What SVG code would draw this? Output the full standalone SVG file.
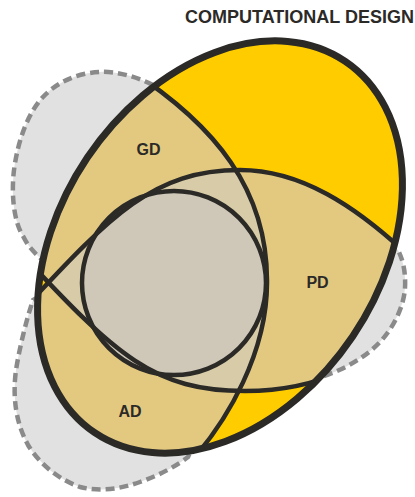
<svg xmlns="http://www.w3.org/2000/svg" width="415" height="497" viewBox="0 0 415 497">
<style>
.line{fill:none;stroke:#2b2a27;stroke-width:4.5}
.lbl{font-family:"Liberation Sans",Arial,sans-serif;font-weight:bold;fill:#2b2a27;text-anchor:middle}
</style>
<defs>
<clipPath id="cdClip"><ellipse cx="220" cy="247" rx="224" ry="160" transform="rotate(-56 220 247)"/></clipPath>
<clipPath id="gdClip"><path d="M130,70 C215,125 268,190 267,283 C267,350 230,420 185,468 L185,500 L0,500 L0,0 L130,0 Z"/></clipPath>
<clipPath id="uClip"><path d="M18,315 C107,220 150,170 240,170 C300,170 355,205 410,257 L430,270 L430,500 L0,500 L0,320 Z"/></clipPath>
<path id="lShape" d="M18,250 C117,357 155,391 245,391 C280,391 315,384 345,370 L430,360 L430,0 L0,0 L0,240 Z"/>
<path id="uShape" d="M18,315 C107,220 150,170 240,170 C300,170 355,205 410,257 L430,270 L430,500 L0,500 L0,320 Z"/>
</defs>
<g id="blob">
<path d="M153,85 C135,76 115,71 100,72 C75,73 55,84 43,97 C28,113 18,140 14,170 C11,195 14,222 23,236 C28,246 33,252 45,262 L60,285 L33,300 C27,318 20,345 16,370 C12,400 17,425 28,445 C40,465 60,480 80,487 C100,492 120,489 140,482 C160,475 178,465 188,457 L210,410 L300,370 L317,378 C340,372 365,358 380,342 C395,326 404,305 405,288 C406,270 402,258 398,250 L340,220 L170,110 Z" fill="#e0e1e0" stroke="#8a8a8a" stroke-width="4.5" stroke-dasharray="9 5"/>
</g>
<g id="computational-design">
<ellipse cx="220" cy="247" rx="224" ry="160" transform="rotate(-56 220 247)" fill="#ffcc00"/>
</g>
<g clip-path="url(#cdClip)">
<g id="gd-ad-fill" clip-path="url(#gdClip)">
<use href="#lShape" fill="#e3c980"/>
<use href="#uShape" fill="#e3c980"/>
</g>
<g id="pd-fill" clip-path="url(#uClip)">
<use href="#lShape" fill="#e3c980"/>
<g clip-path="url(#gdClip)"><use href="#lShape" fill="#d8cca8"/></g>
</g>
</g>
<g id="core">
<circle cx="174" cy="283" r="92" fill="#cfc8b8" stroke="#2b2a27" stroke-width="4.5"/>
</g>
<g id="connectors" clip-path="url(#cdClip)">
<path class="line" d="M18,250 C117,357 155,391 245,391 C280,391 315,384 345,370"/>
<path class="line" d="M18,315 C107,220 150,170 240,170 C300,170 355,205 410,257"/>
<path class="line" d="M130,70 C215,125 268,190 267,283 C267,350 230,420 185,468"/>
</g>
<g id="outline">
<ellipse cx="220" cy="247" rx="224" ry="160" transform="rotate(-56 220 247)" fill="none" stroke="#2b2a27" stroke-width="7"/>
</g>
<g id="labels">
<text class="lbl" x="148.5" y="155" font-size="16">GD</text>
<text class="lbl" x="317.5" y="288" font-size="16">PD</text>
<text class="lbl" x="130" y="417" font-size="16">AD</text>
<text class="lbl" x="414" y="23" font-size="18" style="text-anchor:end">COMPUTATIONAL DESIGN</text>
</g>
</svg>
